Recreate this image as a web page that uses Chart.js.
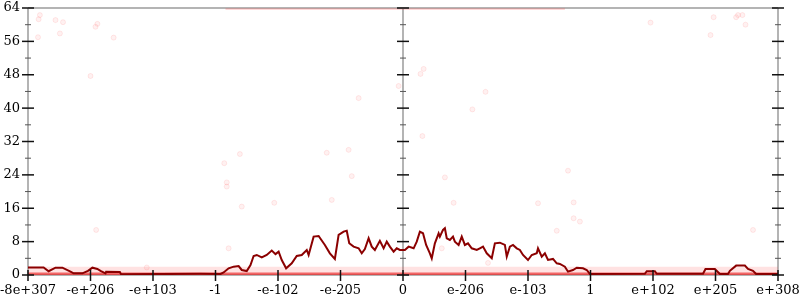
<!DOCTYPE html>
<html>
<head>
<meta charset="utf-8">
<script src="https://cdn.jsdelivr.net/npm/chart.js@4"></script>
<style>
html,body{margin:0;padding:0;background:#fff}
#wrap{width:800px;height:300px;position:relative}
</style>
</head>
<body>
<div id="wrap"><canvas id="myChart"></canvas></div>
<script>
// tick labels along the x axis (one per unit step)
var xLabels=['-8e+307','-e+206','-e+103','-1','-e-102','-e-205','0','e-206','e-103','1','e+102','e+205','e+308']
var yTicks=[0,8,16,24,32,40,48,56,64]

// main density line
var lineX=[0,0.25,0.33,0.44,0.55,0.68,0.73,0.87,0.96,1.03,1.11,1.16,1.24,1.25,1.47,1.49,2.76,3.08,3.13,3.21,3.29,3.37,3.42,3.50,3.56,3.61,3.66,3.74,3.82,3.90,3.96,4.01,4.06,4.13,4.22,4.30,4.38,4.46,4.49,4.57,4.65,4.75,4.83,4.91,4.97,5.05,5.10,5.14,5.21,5.29,5.34,5.39,5.45,5.50,5.55,5.63,5.69,5.74,5.79,5.85,5.90,5.95,6.03,6.09,6.17,6.22,6.27,6.32,6.37,6.43,6.46,6.51,6.57,6.59,6.64,6.67,6.70,6.75,6.80,6.83,6.89,6.94,6.99,7.04,7.10,7.18,7.23,7.28,7.34,7.42,7.47,7.55,7.63,7.66,7.71,7.76,7.82,7.87,7.92,8.00,8.06,8.14,8.16,8.22,8.27,8.32,8.40,8.46,8.51,8.59,8.64,8.72,8.78,8.88,8.94,8.99,9.87,9.90,10.03,10.06,10.80,10.84,10.99,11.07,11.20,11.23,11.33,11.47,11.52,11.60,11.65,12]
var lineY=[1.8,1.8,0.9,1.75,1.75,0.8,0.4,0.4,1.0,1.75,1.45,1.0,0.4,0.8,0.7,0.15,0.3,0.24,0.6,1.6,2.0,2.15,1.2,0.95,2.4,4.55,4.8,4.2,4.8,5.85,5.0,5.6,3.6,1.6,2.8,4.55,4.8,6.0,4.8,9.2,9.35,7.2,5.2,3.85,9.6,10.4,10.6,7.6,6.8,6.4,5.2,6.2,8.8,6.8,6.0,8.2,6.4,8.0,6.8,5.6,6.4,6.0,6.0,6.8,6.4,8.0,10.4,10.0,7.2,5.2,4.0,7.6,10.0,9.2,10.8,11.2,8.8,8.4,9.2,8.0,7.2,9.2,7.2,7.6,6.4,6.0,6.4,6.8,5.2,4.0,7.6,7.75,7.2,4.4,6.8,7.2,6.4,6.0,4.8,3.6,4.8,5.2,6.4,4.4,5.2,3.6,3.85,2.8,2.65,2.0,0.8,1.2,1.75,1.6,1.2,0.25,0.3,0.9,0.9,0.3,0.3,1.45,1.45,0.25,0.25,1.0,2.25,2.25,1.45,1.0,0.25,0.25]

// faint sample dots
var dotX=[0.19,0.17,0.44,0.56,0.51,0.16,1.11,1.08,1.37,1.00,9.96,10.97,10.92,11.36,11.43,11.33,11.48,6.33,6.28,5.93,5.29,7.32,7.11,6.31,5.13,3.39,4.78,3.14,3.18,3.18,5.18,3.94,4.86,3.42,3.21,6.67,6.81,6.62,8.16,8.46,8.64,8.73,8.73,8.83,7.36,1.09,1.90,11.6]
var dotY=[62.3,61.3,61.1,60.6,57.9,57.0,60.2,59.5,56.9,47.7,60.5,61.8,57.5,62.3,62.3,61.8,60.0,49.4,48.2,45.3,42.4,43.9,39.7,33.3,30.0,29.0,29.3,26.8,22.2,21.2,23.7,17.3,18.0,16.4,6.4,23.4,17.3,6.4,17.2,10.6,25.0,17.4,13.6,12.8,2.9,10.8,1.8,10.8]

// dense sample bands near the floor and the top edge
var bandX=[0,12]
var bandY=[1.0,1.0]
var floorY=[0.3,0.3]
var topX=[3.16,8.59]
var topY=[64,64]

function pts(xs,ys){ return xs.map(function(x,i){ return {x:x,y:ys[i]} }) }

Chart.defaults.font.family='DejaVu Serif'
Chart.defaults.font.size=13
Chart.defaults.color='#000'

var axesPlugin={
  id:'axes',
  beforeDatasetsDraw:function(chart){
    var ctx=chart.ctx, a=chart.chartArea, xs=chart.scales.x
    ctx.save()
    ctx.strokeStyle='#b4b4b4'
    ctx.lineWidth=2
    ctx.beginPath()
    ctx.moveTo(a.left,a.top); ctx.lineTo(a.right,a.top)
    ctx.moveTo(a.left,a.bottom); ctx.lineTo(a.right,a.bottom)
    ;[0,6,12].forEach(function(v){
      var px=xs.getPixelForValue(v)
      ctx.moveTo(px,a.top); ctx.lineTo(px,a.bottom)
    })
    ctx.stroke()
    ctx.restore()
  },
  afterDatasetsDraw:function(chart){
    var ctx=chart.ctx, a=chart.chartArea, xs=chart.scales.x, ys=chart.scales.y
    ctx.save()
    ;[0,6,12].forEach(function(v){
      var px=xs.getPixelForValue(v)
      yTicks.forEach(function(t,i){
        var py=ys.getPixelForValue(t)
        ctx.strokeStyle='#111'; ctx.lineWidth=1.5
        ctx.beginPath(); ctx.moveTo(px-6,py); ctx.lineTo(px+6,py); ctx.stroke()
        if(i<yTicks.length-1){
          var pm=ys.getPixelForValue((t+yTicks[i+1])/2)
          ctx.strokeStyle='#555'; ctx.lineWidth=1
          ctx.beginPath(); ctx.moveTo(px-3,pm); ctx.lineTo(px+3,pm); ctx.stroke()
        }
      })
    })
    ctx.strokeStyle='#111'; ctx.lineWidth=1.5
    xLabels.forEach(function(l,i){
      var px=xs.getPixelForValue(i)
      ctx.beginPath(); ctx.moveTo(px,a.bottom-5); ctx.lineTo(px,a.bottom+6); ctx.stroke()
    })
    ctx.restore()
  }
}

var mychart=document.getElementById('myChart').getContext('2d')
var chart=new Chart(mychart,{
  type:'line',
  data:{
    datasets:[{
      label:'density',
      data:pts(lineX,lineY),
      borderColor:'#8b0000',
      borderWidth:2,
      pointRadius:0,
      tension:0,
      order:0
    },{
      label:'samples',
      type:'scatter',
      data:pts(dotX,dotY),
      pointRadius:2.5,
      backgroundColor:'rgba(255,60,60,0.07)',
      borderColor:'rgba(255,60,60,0.1)',
      borderWidth:1,
      order:1
    },{
      label:'floor',
      data:pts(bandX,floorY),
      borderColor:'rgba(235,20,20,0.6)',
      borderWidth:2.5,
      pointRadius:0,
      order:2
    },{
      label:'band',
      data:pts(bandX,bandY),
      borderColor:'rgba(255,60,60,0.15)',
      borderWidth:8,
      pointRadius:0,
      order:3
    },{
      label:'top',
      data:pts(topX,topY),
      borderColor:'rgba(255,60,60,0.2)',
      borderWidth:4,
      pointRadius:0,
      order:4
    }]
  },
  options:{
    responsive:true,
    maintainAspectRatio:false,
    animation:false,
    events:[],
    layout:{padding:{left:0,top:8,right:22,bottom:0}},
    plugins:{legend:{display:false},tooltip:{enabled:false}},
    scales:{
      x:{
        type:'linear',
        min:0,max:12,
        grid:{display:false,drawTicks:false},
        border:{display:false},
        afterBuildTicks:function(s){ s.ticks=xLabels.map(function(l,i){ return {value:i} }) },
        afterFit:function(s){ s.height=25; s.paddingLeft=0; s.paddingRight=0 },
        ticks:{autoSkip:false,maxRotation:0,padding:8,callback:function(v){ return xLabels[v] }}
      },
      y:{
        min:0,max:64,
        grid:{display:false,drawTicks:false},
        border:{display:false},
        afterBuildTicks:function(s){ s.ticks=yTicks.map(function(t){ return {value:t} }) },
        afterFit:function(s){ s.width=28; s.paddingTop=0; s.paddingBottom=0 },
        ticks:{padding:8}
      }
    }
  },
  plugins:[axesPlugin]
})
</script>
</body>
</html>
